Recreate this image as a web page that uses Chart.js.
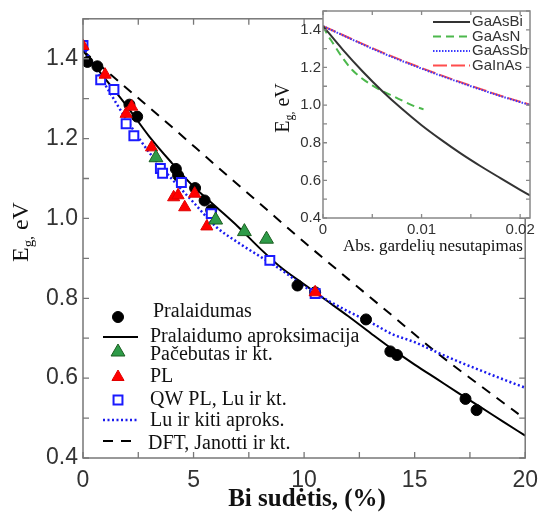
<!DOCTYPE html>
<html>
<head>
<meta charset="utf-8">
<script src="https://cdn.jsdelivr.net/npm/chart.js@4.4.0/dist/chart.umd.min.js"></script>
<style>
html, body { margin: 0; padding: 0; background: #fff; }
#wrap { position: relative; width: 547px; height: 516px; }
#mainChart { position: absolute; left: 0; top: 0; }
#insetChart { position: absolute; left: 270px; top: 0; }
</style>
</head>
<body>
<div id="wrap">
  <canvas id="mainChart" width="547" height="516"></canvas>
  <canvas id="insetChart" width="277" height="260"></canvas>
</div>
<script>
// ---- main plot: Bi content (%) vs band gap (eV) ----
var transX = [0.2, 0.65, 2.1, 2.45, 4.2, 4.3, 5.07, 5.5, 5.8, 9.7, 10.5, 12.8, 13.9, 14.2, 17.3, 17.8];
var transE = [1.392, 1.381, 1.285, 1.255, 1.124, 1.108, 1.076, 1.045, 1.021, 0.832, 0.815, 0.747, 0.667, 0.658, 0.548, 0.52];

var pacebutasX = [3.3, 6.0, 7.3, 8.3];
var pacebutasE = [1.152, 0.996, 0.967, 0.948];

var plX = [0, 1.0, 1.95, 2.2, 3.1, 4.1, 4.3, 4.6, 5.05, 5.6, 10.5];
var plE = [1.432, 1.36, 1.262, 1.28, 1.178, 1.053, 1.058, 1.028, 1.062, 0.98, 0.815];

var qwX = [0, 0.8, 1.4, 1.95, 2.3, 3.5, 3.6, 4.45, 5.8, 8.45, 10.5];
var qwE = [1.433, 1.347, 1.323, 1.237, 1.207, 1.125, 1.113, 1.09, 1.012, 0.895, 0.812];

var fitX = [0, 1, 2, 3, 4, 5, 6, 7, 8, 9, 10, 11, 12, 13, 14, 15, 16, 17, 18, 19, 20];
var fitE = [1.42, 1.35, 1.28, 1.205, 1.14, 1.08, 1.03, 0.98, 0.925, 0.875, 0.835, 0.795, 0.755, 0.713, 0.672, 0.634, 0.598, 0.562, 0.527, 0.491, 0.456];

var luX = [0, 1, 2, 3, 4, 5, 6, 7, 8, 9, 10, 11, 12, 13, 14, 15, 16, 17, 18, 19, 20];
var luE = [1.43, 1.335, 1.245, 1.165, 1.1, 1.04, 0.98, 0.94, 0.905, 0.87, 0.83, 0.797, 0.767, 0.74, 0.71, 0.69, 0.665, 0.641, 0.619, 0.597, 0.576];

var dftX = [0, 2, 4, 6, 8, 10, 12, 14, 16, 18, 19.7];
var dftE = [1.42, 1.325, 1.23, 1.133, 1.037, 0.941, 0.848, 0.756, 0.664, 0.58, 0.51];

var xLabels = [0, 5, 10, 15, 20];
var yLabels = [0.4, 0.6, 0.8, 1.0, 1.2, 1.4];

// ---- inset: lattice mismatch vs band gap ----
var misBi = [0, 0.002, 0.004, 0.006, 0.008, 0.010, 0.012, 0.014, 0.016, 0.018, 0.020, 0.021];
var gapBi = [1.42, 1.295, 1.18, 1.075, 0.98, 0.893, 0.815, 0.742, 0.675, 0.612, 0.55, 0.52];

var misN = [0, 0.0005, 0.001, 0.002, 0.003, 0.004, 0.005, 0.006, 0.007, 0.008, 0.009, 0.0102];
var gapN = [1.42, 1.37, 1.33, 1.25, 1.185, 1.14, 1.105, 1.075, 1.05, 1.025, 1.0, 0.977];

var misSb = [0, 0.003, 0.006, 0.009, 0.012, 0.015, 0.018, 0.021];
var gapSb = [1.42, 1.347, 1.277, 1.214, 1.155, 1.1, 1.048, 1.0];

var misIn = [0, 0.003, 0.006, 0.009, 0.012, 0.015, 0.018, 0.021];
var gapIn = [1.42, 1.349, 1.28, 1.217, 1.158, 1.103, 1.05, 1.002];

var insetXLabels = [0, 0.01, 0.02];
var insetYLabels = [0.4, 0.6, 0.8, 1.0, 1.2, 1.4];

var SANS = '"Liberation Sans", Arial, sans-serif';
var SERIF = '"Liberation Serif", "Times New Roman", serif';

function pts(xs, ys) {
  return xs.map(function (x, i) { return { x: x, y: ys[i] }; });
}
function inList(list, v) {
  return list.some(function (l) { return Math.abs(l - v) < 1e-9; });
}

// box + inward ticks on all four sides
function frameDrawer(len, color) {
  return {
    id: 'frame',
    afterDraw: function (chart) {
      var ctx = chart.ctx, a = chart.chartArea;
      var xs = chart.scales.x, ys = chart.scales.y;
      ctx.save();
      ctx.strokeStyle = color;
      ctx.lineWidth = 1.3;
      ctx.beginPath();
      xs.ticks.forEach(function (t) {
        var px = xs.getPixelForValue(t.value);
        ctx.moveTo(px, a.bottom); ctx.lineTo(px, a.bottom - len);
        ctx.moveTo(px, a.top); ctx.lineTo(px, a.top + len);
      });
      ys.ticks.forEach(function (t) {
        var py = ys.getPixelForValue(t.value);
        ctx.moveTo(a.left, py); ctx.lineTo(a.left + len, py);
        ctx.moveTo(a.right, py); ctx.lineTo(a.right - len, py);
      });
      ctx.stroke();
      ctx.lineWidth = 1.5;
      ctx.strokeRect(a.left, a.top, a.right - a.left, a.bottom - a.top);
      ctx.restore();
    }
  };
}

// "E_g, eV" rotated, with subscript g
function drawEg(ctx, x, y, size) {
  var big = size + 'px ' + SERIF;
  var small = Math.round(size * 0.62) + 'px ' + SERIF;
  ctx.save();
  ctx.translate(x, y);
  ctx.rotate(-Math.PI / 2);
  ctx.fillStyle = '#111';
  ctx.textBaseline = 'alphabetic';
  ctx.textAlign = 'left';
  ctx.font = big; var wE = ctx.measureText('E').width;
  ctx.font = small; var wg = ctx.measureText('g,').width;
  ctx.font = big; var wR = ctx.measureText(' eV').width;
  var start = -(wE + wg + wR) / 2;
  ctx.font = big; ctx.fillText('E', start, 0);
  ctx.font = small; ctx.fillText('g,', start + wE, size * 0.22);
  ctx.font = big; ctx.fillText(' eV', start + wE + wg, 0);
  ctx.restore();
}

var fitSet = {
  label: 'Pralaidumo aproksimacija', data: pts(fitX, fitE), showLine: true,
  borderColor: '#000', borderWidth: 2, pointRadius: 0, cubicInterpolationMode: 'monotone', order: 10
};
var dftSet = {
  label: 'DFT, Janotti ir kt.', data: pts(dftX, dftE), showLine: true,
  borderColor: '#000', borderWidth: 2, borderDash: [10, 8], pointRadius: 0, cubicInterpolationMode: 'monotone', order: 9
};
var luSet = {
  label: 'Lu ir kiti aproks.', data: pts(luX, luE), showLine: true,
  borderColor: '#1a1aee', borderWidth: 2.5, borderDash: [2, 2.5], pointRadius: 0, cubicInterpolationMode: 'monotone', order: 8
};
var transSet = {
  label: 'Pralaidumas', data: pts(transX, transE), showLine: false,
  pointStyle: 'circle', pointRadius: 5.5, backgroundColor: '#000', borderColor: '#000', borderWidth: 1, order: 5
};
var qwSet = {
  label: 'QW PL, Lu ir kt.', data: pts(qwX, qwE), showLine: false,
  pointStyle: 'rect', pointRadius: 6.3, backgroundColor: '#fff', borderColor: '#1a1aff', borderWidth: 2, order: 4
};
var plSet = {
  label: 'PL', data: pts(plX, plE), showLine: false,
  pointStyle: 'triangle', pointRadius: 7, backgroundColor: '#ff0000', borderColor: '#e00000', borderWidth: 1, order: 3
};
var pacSet = {
  label: 'Pačebutas ir kt.', data: pts(pacebutasX, pacebutasE), showLine: false,
  pointStyle: 'triangle', pointRadius: 8, backgroundColor: '#2e9b48', borderColor: '#1b5e20', borderWidth: 1, order: 2
};

// legend rows: [dataset, symbol y, text y, text x]
var legendRows = [
  [transSet, 317, 312, 153],
  [fitSet, 337, 337, 150],
  [pacSet, 352, 355, 150],
  [plSet, 377, 377, 150],
  [qwSet, 400, 400, 150],
  [luSet, 420, 421, 150],
  [dftSet, 441, 444, 148]
];

var mainDecor = {
  id: 'mainDecor',
  afterDraw: function (chart) {
    var ctx = chart.ctx;
    ctx.save();
    legendRows.forEach(function (r) {
      var ds = r[0];
      ctx.strokeStyle = ds.borderColor;
      ctx.lineWidth = ds.borderWidth;
      if (ds.showLine) {
        ctx.beginPath();
        ctx.setLineDash(ds.borderDash || []);
        ctx.moveTo(103, r[1]); ctx.lineTo(138, r[1]);
        ctx.stroke();
        ctx.setLineDash([]);
      } else {
        ctx.fillStyle = ds.backgroundColor;
        Chart.helpers.drawPoint(ctx, {
          pointStyle: ds.pointStyle, radius: ds.pointRadius, rotation: 0,
          borderWidth: ds.borderWidth
        }, 118, r[1]);
      }
      ctx.fillStyle = '#111';
      ctx.font = '20px ' + SERIF;
      ctx.textAlign = 'left';
      ctx.textBaseline = 'middle';
      ctx.fillText(ds.label, r[3], r[2]);
    });
    ctx.fillStyle = '#111';
    ctx.font = 'bold 25px ' + SERIF;
    ctx.textAlign = 'center';
    ctx.textBaseline = 'middle';
    ctx.fillText('Bi sudėtis, (%)', 307, 500);
    ctx.restore();
    drawEg(ctx, 28, 232, 24);
  }
};

new Chart(document.getElementById('mainChart').getContext('2d'), {
  type: 'scatter',
  data: { datasets: [fitSet, dftSet, luSet, transSet, qwSet, plSet, pacSet] },
  options: {
    responsive: false,
    animation: false,
    layout: { padding: { left: 0, right: 14, top: 10, bottom: 0 } },
    plugins: { legend: { display: false }, tooltip: { enabled: false } },
    scales: {
      x: {
        type: 'linear', min: 0, max: 20,
        grid: { display: false, drawTicks: false }, border: { display: false },
        ticks: {
          stepSize: 2.5, autoSkip: false, maxRotation: 0, padding: 9, color: '#333',
          font: { family: SANS, size: 23 },
          callback: function (v) { return inList(xLabels, v) ? String(v) : ''; }
        },
        afterFit: function (s) { s.height = 58; }
      },
      y: {
        type: 'linear', min: 0.4, max: 1.5,
        grid: { display: false, drawTicks: false }, border: { display: false },
        ticks: {
          stepSize: 0.1, autoSkip: false, padding: 5, color: '#333',
          font: { family: SANS, size: 23 },
          callback: function (v) { return inList(yLabels, v) ? v.toFixed(1) : ''; }
        },
        afterFit: function (s) { s.width = 83; }
      }
    }
  },
  plugins: [frameDrawer(6, '#777'), mainDecor]
});

// ---- inset chart ----
var insetSets = [
  { label: 'GaAsBi', data: pts(misBi, gapBi), borderColor: '#333', borderWidth: 2, borderDash: [] },
  { label: 'GaAsN', data: pts(misN, gapN), borderColor: '#4cb84c', borderWidth: 2, borderDash: [8, 5] },
  { label: 'GaAsSb', data: pts(misSb, gapSb), borderColor: '#3a3aff', borderWidth: 2, borderDash: [1.5, 1.5] },
  { label: 'GaInAs', data: pts(misIn, gapIn), borderColor: '#ff4d4d', borderWidth: 2, borderDash: [14, 4] }
];
insetSets.forEach(function (d) {
  d.showLine = true; d.pointRadius = 0; d.cubicInterpolationMode = 'monotone';
});
var insetLegendY = [22, 36.5, 51, 65.5];

new Chart(document.getElementById('insetChart').getContext('2d'), {
  type: 'scatter',
  data: { datasets: insetSets },
  options: {
    responsive: false,
    animation: false,
    layout: { padding: { left: 0, right: 17, top: 11, bottom: 0 } },
    plugins: { legend: { display: false }, tooltip: { enabled: false } },
    scales: {
      x: {
        type: 'linear', min: 0, max: 0.021,
        grid: { display: false, drawTicks: false }, border: { display: false },
        ticks: {
          stepSize: 0.005, includeBounds: false, autoSkip: false, maxRotation: 0, padding: 3, color: '#333',
          font: { family: SANS, size: 15 },
          callback: function (v) { return inList(insetXLabels, v) ? (v === 0 ? '0' : v.toFixed(2)) : ''; }
        },
        afterFit: function (s) { s.height = 42; }
      },
      y: {
        type: 'linear', min: 0.4, max: 1.5,
        grid: { display: false, drawTicks: false }, border: { display: false },
        ticks: {
          stepSize: 0.1, autoSkip: false, padding: 2, color: '#333',
          font: { family: SANS, size: 15 },
          callback: function (v) { return inList(insetYLabels, v) ? v.toFixed(1) : ''; }
        },
        afterFit: function (s) { s.width = 53; }
      }
    }
  },
  plugins: [{
    id: 'insetBg',
    beforeDatasetsDraw: function (chart) {
      var a = chart.chartArea, ctx = chart.ctx;
      ctx.save();
      ctx.fillStyle = '#fff';
      ctx.fillRect(a.left, a.top, a.right - a.left, a.bottom - a.top);
      ctx.restore();
    }
  }, frameDrawer(4, '#888'), {
    id: 'insetDecor',
    afterDraw: function (chart) {
      var ctx = chart.ctx;
      ctx.save();
      insetSets.forEach(function (d, i) {
        var y = insetLegendY[i];
        ctx.beginPath();
        ctx.strokeStyle = d.borderColor;
        ctx.lineWidth = d.borderWidth;
        ctx.setLineDash(d.borderDash);
        ctx.moveTo(163, y); ctx.lineTo(200, y);
        ctx.stroke();
        ctx.setLineDash([]);
        ctx.fillStyle = '#333';
        ctx.font = '15px ' + SANS;
        ctx.textAlign = 'left';
        ctx.textBaseline = 'middle';
        ctx.fillText(d.label, 202, y);
      });
      ctx.fillStyle = '#111';
      ctx.font = '17px ' + SERIF;
      ctx.textAlign = 'center';
      ctx.textBaseline = 'middle';
      ctx.fillText('Abs. gardelių nesutapimas', 163, 247);
      ctx.restore();
      drawEg(ctx, 19, 108, 20);
    }
  }]
});
</script>
</body>
</html>
